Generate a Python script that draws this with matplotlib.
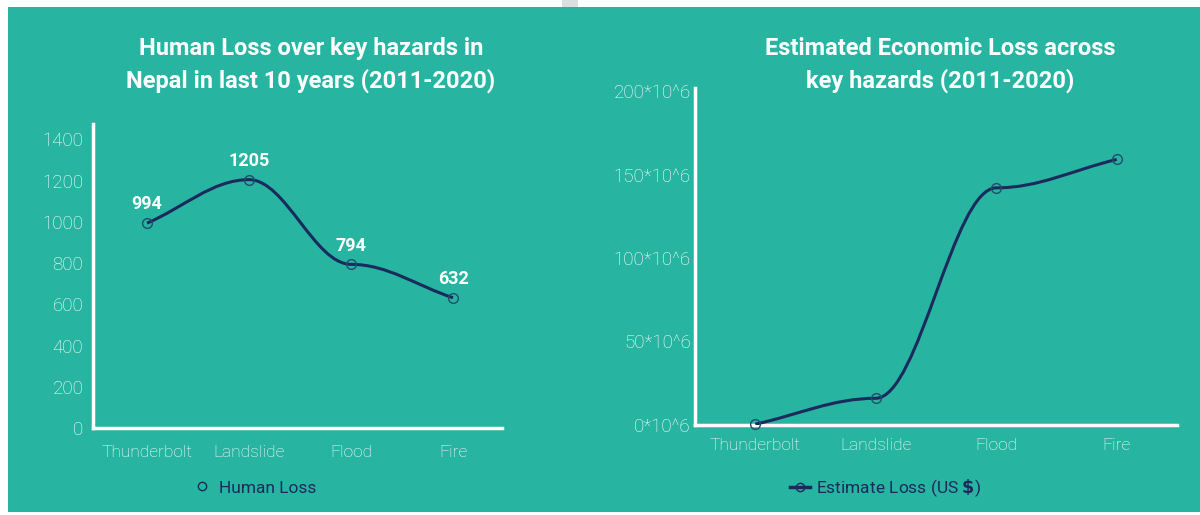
import matplotlib.pyplot as plt
import numpy as np
from matplotlib.path import Path
from matplotlib.patches import PathPatch, Rectangle, Polygon
from matplotlib.lines import Line2D

plt.rcParams['font.family'] = ['Roboto', 'DejaVu Sans']

# data
hazards = ['Thunderbolt', 'Landslide', 'Flood', 'Fire']
human_loss = [994, 1205, 794, 632]
econ_loss = [0.5, 16, 142, 159]  # in 10^6 US $
human_ticks = [0, 200, 400, 600, 800, 1000, 1200, 1400]
econ_ticks = [0, 50, 100, 150, 200]
econ_tick_labels = ['0*10^6', '50*10^6', '100*10^6', '150*10^6', '200*10^6']

TEAL = '#27B5A2'
NAVY = '#1B2A5C'
TICK = 'white'


def smooth_path(x, y, k=0.36):
    # bezier through the points, flat tangents at inner points,
    # chord slope at the two ends
    x = np.asarray(x, float)
    y = np.asarray(y, float)
    n = len(x)
    slope = np.zeros(n)
    slope[0] = (y[1] - y[0]) / (x[1] - x[0])
    slope[-1] = (y[-1] - y[-2]) / (x[-1] - x[-2])
    verts = [(x[0], y[0])]
    codes = [Path.MOVETO]
    for i in range(n - 1):
        dx = x[i + 1] - x[i]
        c1 = (x[i] + k * dx, y[i] + slope[i] * k * dx)
        c2 = (x[i + 1] - k * dx, y[i + 1] - slope[i + 1] * k * dx)
        verts += [c1, c2, (x[i + 1], y[i + 1])]
        codes += [Path.CURVE4] * 3
    return Path(verts, codes)


fig = plt.figure(figsize=(12, 5.15), dpi=100)
fig.patch.set_facecolor('white')
fig.patches.append(Rectangle((8 / 1200, 0.006), 1, (508 - 8) / 515 + 0.01,
                             transform=fig.transFigure, facecolor=TEAL,
                             edgecolor='none', zorder=-5))
fig.patches.append(Polygon([(562 / 1200, 1), (578 / 1200, 1),
                            (578 / 1200, 1 - 7 / 515), (562 / 1200, 1 - 7 / 515)],
                           closed=True, transform=fig.transFigure,
                           facecolor='#DDDDDD', edgecolor='none', zorder=-5))


def style_axes(ax):
    ax.set_facecolor('none')
    for s in ['top', 'right']:
        ax.spines[s].set_visible(False)
    for s in ['left', 'bottom']:
        ax.spines[s].set_color('white')
        ax.spines[s].set_linewidth(2.5)
    ax.tick_params(length=0, colors=TICK)
    ax.tick_params(axis='x', labelsize=12.5)
    ax.tick_params(axis='y', labelsize=13.5)
    for lab in ax.get_xticklabels() + ax.get_yticklabels():
        lab.set_fontweight('light')


# left chart: human loss
ax1 = fig.add_axes([93 / 1200, 1 - 428 / 515, (502 - 93) / 1200, (428 - 124) / 515])
x = np.arange(len(hazards))
ax1.add_patch(PathPatch(smooth_path(x, human_loss), facecolor='none',
                        edgecolor=NAVY, linewidth=2.2, zorder=3))
ax1.plot(x, human_loss, linestyle='none', marker='o', markersize=7,
         markerfacecolor='none', markeredgecolor='#1F4E6A', markeredgewidth=1.0, zorder=4)
for xi, v in zip(x, human_loss):
    ax1.annotate(str(v), (xi, v), xytext=(0, 7), textcoords='offset points',
                 ha='center', va='bottom', color='white', fontsize=13,
                 fontweight='bold')
ax1.set_xlim(-0.53, 3.48)
ax1.set_ylim(0, 1475)
ax1.set_xticks(x)
ax1.set_xticklabels(hazards)
ax1.set_yticks(human_ticks)
style_axes(ax1)
ax1.tick_params(axis='x', pad=12)
ax1.tick_params(axis='y', pad=7)

fig.text(311 / 1200, 1 - 65 / 515, 'Human Loss over key hazards in\nNepal in last 10 years (2011-2020)',
         ha='center', va='center', color='white', fontsize=17, fontweight='bold',
         linespacing=1.45)

h1 = Line2D([], [], linestyle='none', marker='o', markersize=6,
            markerfacecolor='none', markeredgecolor=NAVY, markeredgewidth=1.0)
fig.legend([h1], ['Human Loss'], loc='center', bbox_to_anchor=(255 / 1200, 1 - 488 / 515),
           frameon=False, labelcolor=NAVY, handlelength=1.0,
           handletextpad=0.5, prop={'weight': 'normal', 'size': 12.5})

# right chart: economic loss
ax2 = fig.add_axes([695 / 1200, 1 - 425 / 515, (1177 - 695) / 1200, (425 - 91) / 515])
ax2.add_patch(PathPatch(smooth_path(x, econ_loss), facecolor='none',
                        edgecolor=NAVY, linewidth=2.2, zorder=3))
ax2.plot(x, econ_loss, linestyle='none', marker='o', markersize=7,
         markerfacecolor='none', markeredgecolor='#1F4E6A', markeredgewidth=1.0, zorder=4,
         clip_on=False)
ax2.set_xlim(-0.5, 3.5)
ax2.set_ylim(0, 200)
ax2.set_xticks(x)
ax2.set_xticklabels(hazards)
ax2.set_yticks(econ_ticks)
ax2.set_yticklabels(econ_tick_labels)
style_axes(ax2)
ax2.tick_params(axis='x', pad=9)
ax2.tick_params(axis='y', pad=3)
ax2.spines['left'].set_bounds(0, 202)

fig.text(940 / 1200, 1 - 65 / 515, 'Estimated Economic Loss across\nkey hazards (2011-2020)',
         ha='center', va='center', color='white', fontsize=17, fontweight='bold',
         linespacing=1.45)

h2 = Line2D([], [], color=NAVY, linewidth=2.5, marker='o', markersize=6,
            markerfacecolor='none', markeredgecolor=NAVY, markeredgewidth=1.0)
fig.legend([h2], [r'Estimate Loss (US $\mathbf{\$}$)'], loc='center',
           bbox_to_anchor=(885 / 1200, 1 - 488 / 515), frameon=False,
           labelcolor=NAVY, handlelength=1.2, handletextpad=0.3,
           prop={'weight': 'normal', 'size': 12.5})

fig.savefig('out.png', dpi=100, facecolor=fig.get_facecolor())
